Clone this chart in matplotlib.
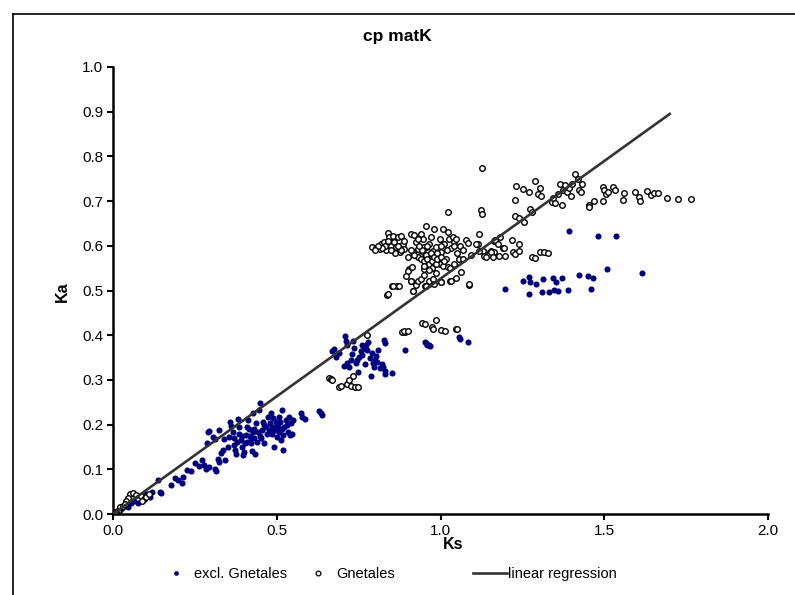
import matplotlib
matplotlib.use("Agg")
import matplotlib.pyplot as plt
from matplotlib.lines import Line2D

plt.rcParams['font.family'] = ['Liberation Sans', 'DejaVu Sans']

# excl. Gnetales (blue dots)
blue_ks = [0.005, 0.012, 0.02, 0.028, 0.035, 0.046, 0.055, 0.065, 0.076, 0.085, 0.091, 0.1, 0.112, 0.12,
           0.137, 0.142, 0.147, 0.176, 0.19, 0.198, 0.211, 0.215, 0.225, 0.239, 0.249, 0.262, 0.271, 0.279,
           0.284, 0.294, 0.31, 0.315, 0.32, 0.325,
           0.286, 0.289, 0.294, 0.305, 0.31, 0.325, 0.33, 0.335, 0.343, 0.34, 0.35, 0.353, 0.357, 0.36,
           0.365, 0.368, 0.37, 0.373, 0.376, 0.381, 0.384, 0.386, 0.391, 0.394, 0.396, 0.401, 0.404, 0.406,
           0.408, 0.411, 0.416, 0.418, 0.421, 0.424, 0.426, 0.428, 0.431, 0.435, 0.437, 0.442, 0.445, 0.449,
           0.452, 0.455, 0.457, 0.462, 0.467, 0.472, 0.475, 0.479, 0.482, 0.485, 0.487, 0.49, 0.492, 0.495,
           0.497, 0.5, 0.503, 0.506, 0.508, 0.513, 0.516, 0.518, 0.52, 0.523, 0.528, 0.533, 0.536, 0.54,
           0.543, 0.548, 0.551, 0.574, 0.577, 0.587, 0.629, 0.635, 0.638,
           0.395, 0.41, 0.43, 0.46, 0.47, 0.5, 0.515, 0.53, 0.45, 0.48, 0.51, 0.38, 0.42, 0.44,
           0.67, 0.675, 0.682, 0.69, 0.704, 0.708, 0.711, 0.713, 0.716, 0.721, 0.726, 0.731, 0.733, 0.736,
           0.741, 0.744, 0.749, 0.751, 0.756, 0.759, 0.761, 0.767, 0.77, 0.772, 0.777, 0.779, 0.784, 0.787,
           0.79, 0.794, 0.797, 0.8, 0.804, 0.807, 0.81, 0.814, 0.82, 0.824, 0.827, 0.83, 0.83, 0.832, 0.853,
           0.893, 0.952, 0.959, 0.967, 1.056, 1.061, 1.084, 0.956, 0.966,
           1.391, 1.482, 1.536, 1.507, 1.614, 1.198, 1.251, 1.271, 1.273, 1.292, 1.312, 1.345, 1.353, 1.37,
           1.27, 1.311, 1.331, 1.347, 1.358, 1.39, 1.423, 1.451, 1.467, 1.461]
blue_ka = [0.003, 0.006, 0.01, 0.013, 0.018, 0.015, 0.025, 0.03, 0.024, 0.04, 0.0375, 0.045, 0.039, 0.05,
           0.075, 0.049, 0.047, 0.065, 0.081, 0.075, 0.069, 0.083, 0.098, 0.096, 0.114, 0.107, 0.12, 0.109,
           0.101, 0.105, 0.101, 0.096, 0.124, 0.116,
           0.159, 0.184, 0.186, 0.173, 0.167, 0.188, 0.137, 0.143, 0.12, 0.167, 0.15, 0.173, 0.206, 0.197,
           0.184, 0.169, 0.154, 0.143, 0.135, 0.212, 0.195, 0.18, 0.165, 0.15, 0.131, 0.139, 0.158, 0.176,
           0.195, 0.21, 0.191, 0.174, 0.158, 0.141, 0.227, 0.184, 0.169, 0.135, 0.203, 0.184, 0.233, 0.248,
           0.169, 0.188, 0.206, 0.159, 0.195, 0.216, 0.184, 0.203, 0.225, 0.195, 0.18, 0.214, 0.15, 0.188,
           0.206, 0.173, 0.195, 0.218, 0.184, 0.165, 0.233, 0.143, 0.176, 0.195, 0.21, 0.184, 0.218, 0.176,
           0.203, 0.18, 0.21, 0.225, 0.218, 0.212, 0.231, 0.225, 0.221,
           0.175, 0.162, 0.19, 0.2, 0.178, 0.2, 0.19, 0.2, 0.175, 0.185, 0.205, 0.16, 0.17, 0.16,
           0.364, 0.369, 0.351, 0.36, 0.332, 0.399, 0.386, 0.379, 0.338, 0.329, 0.345, 0.359, 0.386, 0.371,
           0.338, 0.345, 0.317, 0.351, 0.364, 0.379, 0.356, 0.371, 0.336, 0.379, 0.367, 0.384, 0.349, 0.308,
           0.36, 0.338, 0.329, 0.345, 0.354, 0.341, 0.366, 0.327, 0.336, 0.329, 0.39, 0.382, 0.313, 0.32, 0.315,
           0.366, 0.384, 0.379, 0.376, 0.396, 0.392, 0.385, 0.383, 0.377,
           0.633, 0.622, 0.621, 0.549, 0.54, 0.503, 0.522, 0.53, 0.518, 0.514, 0.525, 0.529, 0.519, 0.527,
           0.492, 0.497, 0.497, 0.502, 0.499, 0.502, 0.535, 0.532, 0.528, 0.504]

# Gnetales (open circles)
gnet_ks = [0.051, 0.062, 0.071, 0.046, 0.041, 0.087, 0.095, 0.102, 0.109, 0.088, 0.02, 0.015, 0.01, 0.03,
           0.036, 0.005,
           0.66, 0.665, 0.67, 0.69, 0.695, 0.716, 0.721, 0.726, 0.733, 0.739, 0.749, 0.777,
           0.883, 0.893, 0.942, 0.952, 0.975, 0.978, 0.987, 1.0, 1.015, 1.046, 1.051, 0.89, 0.9,
           0.838, 0.853, 0.868, 0.909, 0.916, 0.924, 0.952, 0.964, 0.975, 1.0, 1.03, 1.086,
           0.791, 0.804, 0.814, 0.819, 0.826, 0.834, 0.839, 0.844, 0.849, 0.854, 0.859, 0.865, 0.869, 0.875,
           0.88, 0.885, 0.89, 0.905, 0.91, 0.915, 0.92, 0.926, 0.93, 0.936, 0.941, 0.946, 0.951, 0.956,
           0.961, 0.966, 0.971, 0.976, 0.981, 0.987, 0.991, 0.997, 1.002, 1.007, 1.012, 1.017, 1.022, 1.027,
           1.032, 1.037, 1.042, 1.048, 1.058, 1.068, 1.078, 1.083,
           0.9, 0.895, 0.913, 0.91, 0.93, 0.941, 0.915, 0.854, 0.872, 0.839, 0.951, 0.971, 0.966, 0.976,
           0.997, 1.007, 1.022, 1.032, 1.048, 1.063, 1.088, 0.956, 0.981, 1.002,
           0.93, 0.94, 0.95, 0.955, 0.96, 0.965, 0.97, 0.975, 0.98, 0.985, 0.99, 0.92, 0.91, 0.9, 0.945,
           0.96, 0.935, 0.95, 0.975, 0.99, 1.0, 1.01, 0.88, 0.87, 0.86, 0.85, 0.83, 0.82, 0.81, 0.8, 0.84,
           0.89, 0.93, 0.97, 1.0, 1.02, 1.04, 1.05, 1.06, 1.07, 0.965, 0.985, 0.95, 1.03, 1.04,
           1.114, 1.119, 1.134, 1.154, 1.164, 1.164,
           1.127, 1.124, 1.127, 1.231, 1.253, 1.271, 1.228, 1.29, 1.297, 1.305, 1.307, 1.34, 1.344, 1.35,
           1.358, 1.365, 1.371, 1.375, 1.381, 1.385, 1.391, 1.398, 1.403, 1.412, 1.419, 1.424, 1.429, 1.432,
           1.452, 1.454, 1.47, 1.497, 1.5, 1.505, 1.497, 1.51, 1.527, 1.533, 1.558, 1.561, 1.594, 1.605,
           1.609, 1.63, 1.642, 1.652, 1.663, 1.693, 1.726, 1.766, 1.024,
           1.226, 1.241, 1.256, 1.273, 1.279,
           1.167, 1.175, 1.182, 1.192, 1.218, 1.239, 1.22, 1.228, 1.239, 1.129, 1.134, 1.154, 1.159, 1.18,
           1.198, 1.279, 1.29, 1.304, 1.317, 1.327, 1.108, 1.119, 1.093, 1.139, 1.195]
gnet_ka = [0.045, 0.046, 0.043, 0.036, 0.03, 0.041, 0.034, 0.039, 0.045, 0.03, 0.015, 0.007, 0.004, 0.019,
           0.023, 0.002,
           0.304, 0.302, 0.3, 0.285, 0.287, 0.291, 0.299, 0.287, 0.309, 0.285, 0.284, 0.401,
           0.407, 0.407, 0.428, 0.425, 0.419, 0.414, 0.435, 0.411, 0.41, 0.414, 0.413, 0.409, 0.409,
           0.489, 0.509, 0.509, 0.521, 0.499, 0.512, 0.51, 0.514, 0.518, 0.518, 0.521, 0.512,
           0.597, 0.595, 0.593, 0.604, 0.609, 0.591, 0.629, 0.619, 0.6, 0.622, 0.608, 0.597, 0.619, 0.586,
           0.623, 0.604, 0.593, 0.548, 0.627, 0.586, 0.625, 0.608, 0.593, 0.578, 0.627, 0.616, 0.597, 0.644,
           0.586, 0.604, 0.571, 0.589, 0.638, 0.597, 0.578, 0.616, 0.586, 0.638, 0.604, 0.571, 0.631, 0.616,
           0.595, 0.619, 0.608, 0.616, 0.571, 0.571, 0.612, 0.607,
           0.544, 0.533, 0.552, 0.522, 0.522, 0.525, 0.499, 0.51, 0.51, 0.492, 0.548, 0.555, 0.522, 0.525,
           0.559, 0.555, 0.552, 0.522, 0.529, 0.541, 0.514, 0.51, 0.514, 0.518,
           0.575, 0.57, 0.565, 0.58, 0.57, 0.56, 0.585, 0.565, 0.575, 0.56, 0.57, 0.58, 0.59, 0.575, 0.59,
           0.6, 0.6, 0.555, 0.55, 0.585, 0.575, 0.565, 0.59, 0.6, 0.585, 0.59, 0.6, 0.595, 0.6, 0.59, 0.61,
           0.61, 0.615, 0.62, 0.6, 0.59, 0.6, 0.585, 0.6, 0.59, 0.545, 0.54, 0.535, 0.55, 0.56,
           0.604, 0.627, 0.586, 0.589, 0.586, 0.61,
           0.773, 0.679, 0.672, 0.733, 0.727, 0.721, 0.703, 0.745, 0.715, 0.73, 0.712, 0.698, 0.706, 0.696,
           0.715, 0.739, 0.691, 0.724, 0.736, 0.721, 0.73, 0.712, 0.739, 0.76, 0.749, 0.724, 0.721, 0.739,
           0.691, 0.687, 0.7, 0.732, 0.724, 0.715, 0.7, 0.721, 0.732, 0.724, 0.702, 0.718, 0.721, 0.709,
           0.7, 0.722, 0.713, 0.719, 0.719, 0.707, 0.704, 0.704, 0.675,
           0.666, 0.662, 0.653, 0.683, 0.676,
           0.612, 0.604, 0.619, 0.595, 0.612, 0.604, 0.586, 0.582, 0.589, 0.589, 0.578, 0.587, 0.574, 0.578,
           0.578, 0.574, 0.573, 0.587, 0.586, 0.584, 0.604, 0.589, 0.58, 0.574, 0.595]

# linear regression end points
reg_ks = [0.0, 1.70]
reg_ka = [0.0, 0.895]

fig = plt.figure(figsize=(7.95, 5.95), dpi=100)
ax = fig.add_axes([113 / 795, 1 - 514 / 595, 655 / 795, 447 / 595])

ax.plot(reg_ks, reg_ka, color='#333333', lw=1.9, zorder=3)
ax.plot(blue_ks, blue_ka, 'o', ms=4.4, color='#000080', mec='#000080', mew=0, zorder=2)
ax.plot(gnet_ks, gnet_ka, 'o', ms=4.0, mfc='white', mec='black', mew=1.0, zorder=2)

ax.set_xlim(0, 2.0)
ax.set_ylim(0, 1.0)
ax.set_xticks([0, 0.5, 1.0, 1.5, 2.0])
ax.set_yticks([i / 10 for i in range(11)])
ax.xaxis.set_major_formatter(matplotlib.ticker.FormatStrFormatter('%.1f'))
ax.yaxis.set_major_formatter(matplotlib.ticker.FormatStrFormatter('%.1f'))
ax.tick_params(direction='out', length=4, width=1.5, labelsize=11, pad=3)
for s in ['top', 'right']:
    ax.spines[s].set_visible(False)
for s in ['left', 'bottom']:
    ax.spines[s].set_linewidth(1.8)
ax.patch.set_alpha(0)

fig.text(397 / 795, 1 - 37 / 595, 'cp matK', fontsize=12.5, fontweight='bold', ha='center', va='center')
ax.set_xlabel('Ks', fontsize=11.5, fontweight='bold')
ax.xaxis.set_label_coords(0.519, -0.052)
ax.set_ylabel('Ka', fontsize=11.5, fontweight='bold')
ax.yaxis.set_label_coords(-0.066, 0.497)

# outer frame (clipped at right and bottom like the original)
fig.add_artist(Line2D([13 / 795, 13 / 795], [0, 1 - 14 / 595], color='black', lw=1.2))
fig.add_artist(Line2D([13 / 795, 1], [1 - 14 / 595, 1 - 14 / 595], color='black', lw=1.2))

# legend entries, placed one by one
h_blue = Line2D([], [], ls='none', marker='o', ms=3.4, color='#000080', mew=0)
h_gnet = Line2D([], [], ls='none', marker='o', ms=3.4, mfc='white', mec='black', mew=0.9)
h_reg = Line2D([], [], color='#333333', lw=1.9)
entries = [(h_blue, 'excl. Gnetales', 159), (h_gnet, 'Gnetales', 301), (h_reg, 'linear regression', 473)]
for h, lab, x0 in entries:
    fig.legend([h], [lab], loc='center left', bbox_to_anchor=(x0 / 795, 1 - 574 / 595),
               frameon=False, fontsize=10.5, handlelength=2.3, handletextpad=0.1,
               borderpad=0, borderaxespad=0, numpoints=1)

fig.savefig('out.png', dpi=100)
